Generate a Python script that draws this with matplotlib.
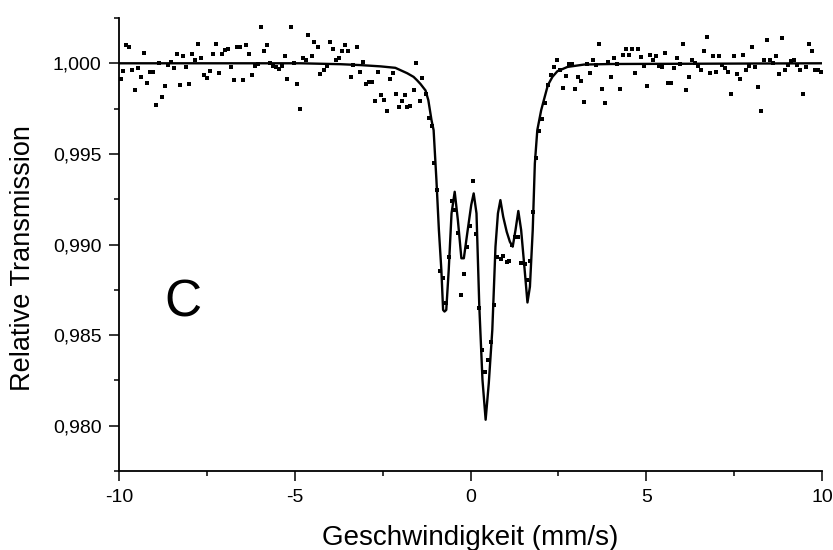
import matplotlib
matplotlib.use("Agg")
import matplotlib.pyplot as plt
from matplotlib.ticker import FuncFormatter, MultipleLocator

# measured points (velocity in mm/s, relative transmission)
velocity = [
    -9.95, -9.88, -9.80, -9.71, -9.63, -9.54, -9.46, -9.37, -9.29, -9.20,
    -9.12, -9.03, -8.95, -8.86, -8.78, -8.69, -8.60, -8.52, -8.43, -8.35,
    -8.26, -8.18, -8.09, -8.01, -7.92, -7.84, -7.75, -7.66, -7.58, -7.49,
    -7.41, -7.32, -7.24, -7.15, -7.07, -6.98, -6.90, -6.81, -6.72, -6.64,
    -6.55, -6.47, -6.38, -6.30, -6.21, -6.13, -6.04, -5.95, -5.87, -5.79,
    -5.70, -5.61, -5.53, -5.44, -5.36, -5.29, -5.21, -5.11, -5.03, -4.94,
    -4.86, -4.77, -4.69, -4.61, -4.52, -4.44, -4.35, -4.27, -4.18, -4.09,
    -4.01, -3.92, -3.84, -3.75, -3.67, -3.58, -3.50, -3.41, -3.33, -3.24,
    -3.15, -3.07, -2.98, -2.90, -2.81, -2.73, -2.64, -2.56, -2.47, -2.39,
    -2.30, -2.21, -2.13, -2.04, -1.96, -1.87, -1.80, -1.71, -1.62, -1.54,
    -1.45, -1.37, -1.28, -1.18, -1.11, -1.05, -0.95, -0.88, -0.78, -0.70,
    -0.62, -0.53, -0.45, -0.36, -0.27, -0.18, -0.09, -0.01, 0.08, 0.16,
    0.25, 0.34, 0.42, 0.49, 0.59, 0.68, 0.76, 0.86, 0.93, 1.03,
    1.10, 1.19, 1.27, 1.36, 1.44, 1.54, 1.62, 1.70, 1.78, 1.86,
    1.95, 2.04, 2.12, 2.20, 2.29, 2.37, 2.46, 2.54, 2.63, 2.72,
    2.80, 2.89, 2.97, 3.06, 3.14, 3.23, 3.31, 3.40, 3.48, 3.57,
    3.66, 3.74, 3.83, 3.91, 4.00, 4.08, 4.17, 4.25, 4.34, 4.43,
    4.51, 4.60, 4.68, 4.77, 4.85, 4.94, 5.02, 5.11, 5.19, 5.28,
    5.37, 5.45, 5.54, 5.62, 5.71, 5.79, 5.88, 5.96, 6.05, 6.13,
    6.22, 6.31, 6.39, 6.48, 6.56, 6.65, 6.73, 6.82, 6.90, 6.99,
    7.07, 7.16, 7.25, 7.33, 7.42, 7.50, 7.59, 7.67, 7.76, 7.84,
    7.93, 8.01, 8.10, 8.19, 8.26, 8.35, 8.43, 8.52, 8.60, 8.69,
    8.78, 8.86, 8.95, 9.03, 9.12, 9.20, 9.29, 9.37, 9.46, 9.54,
    9.62, 9.71, 9.79, 9.88, 9.96,
]
transmission = [
    0.99913, 0.99958, 1.00099, 1.00090, 0.99963, 0.99850, 0.99972, 0.99923, 1.00057, 0.99890,
    0.99950, 0.99952, 0.99769, 1.00000, 0.99813, 0.99872, 0.99993, 1.00007, 0.99972, 1.00050,
    0.99880, 1.00039, 0.99980, 0.99886, 1.00050, 1.00017, 1.00108, 1.00028, 0.99934, 0.99917,
    0.99956, 1.00050, 1.00108, 0.99949, 1.00050, 1.00072, 1.00079, 0.99982, 0.99910, 1.00090,
    1.00090, 0.99910, 1.00100, 1.00050, 0.99934, 0.99986, 0.99998, 1.00200, 1.00070, 1.00103,
    1.00000, 0.99987, 0.99980, 0.99967, 0.99983, 1.00039, 0.99914, 1.00200, 1.00002, 0.99886,
    0.99748, 1.00030, 1.00020, 1.00158, 1.00040, 1.00120, 1.00088, 0.99941, 0.99963, 0.99987,
    1.00120, 1.00077, 1.00020, 1.00031, 1.00070, 1.00099, 1.00070, 0.99925, 0.99993, 1.00088,
    0.99954, 1.00007, 0.99888, 0.99899, 0.99895, 0.99794, 0.99950, 0.99824, 0.99796, 0.99735,
    0.99914, 0.99949, 0.99831, 0.99759, 0.99790, 0.99824, 0.99759, 0.99763, 0.99853, 1.00000,
    0.99790, 0.99917, 0.99833, 0.99700, 0.99655, 0.99447, 0.99300, 0.98856, 0.98814, 0.98679,
    0.98933, 0.99241, 0.99190, 0.99065, 0.98723, 0.98839, 0.98984, 0.99102, 0.99350, 0.99058,
    0.98648, 0.98419, 0.98296, 0.98364, 0.98461, 0.98667, 0.98933, 0.98918, 0.98938, 0.98905,
    0.98911, 0.98997, 0.99040, 0.99043, 0.98900, 0.98892, 0.98804, 0.98910, 0.99181, 0.99477,
    0.99625, 0.99691, 0.99781, 0.99879, 0.99936, 0.99980, 1.00018, 0.99961, 0.99866, 0.99928,
    0.99996, 0.99996, 0.99857, 0.99923, 0.99902, 0.99787, 0.99994, 0.99945, 1.00017, 0.99993,
    1.00108, 0.99858, 0.99781, 1.00007, 0.99925, 1.00028, 0.99996, 0.99860, 1.00048, 1.00077,
    1.00048, 1.00077, 0.99947, 1.00077, 1.00037, 0.99983, 0.99873, 1.00048, 1.00017, 1.00039,
    0.99987, 0.99978, 1.00057, 0.99891, 0.99891, 0.99972, 1.00028, 0.99994, 1.00108, 0.99850,
    0.99925, 1.00017, 1.00000, 0.99987, 0.99965, 1.00070, 1.00147, 0.99949, 1.00039, 0.99954,
    1.00039, 0.99991, 0.99974, 0.99952, 0.99829, 1.00039, 0.99941, 0.99912, 1.00048, 0.99961,
    0.99983, 1.00088, 0.99980, 0.99869, 0.99737, 1.00017, 1.00129, 1.00017, 1.00000, 1.00039,
    0.99939, 1.00138, 0.99961, 0.99991, 1.00011, 1.00018, 0.99993, 0.99963, 0.99831, 0.99982,
    1.00108, 1.00070, 0.99965, 0.99961, 0.99954,
]

# fitted curve
fit_v = [
    -10.0, -4.84, -3.70, -3.13, -2.56, -2.14, -1.80, -1.62, -1.52, -1.42,
    -1.28, -1.20, -1.11, -1.05, -0.97, -0.90, -0.83, -0.78, -0.74, -0.69,
    -0.62, -0.54, -0.45, -0.36, -0.26, -0.19, -0.08, 0.02, 0.09, 0.17,
    0.25, 0.34, 0.43, 0.52, 0.62, 0.71, 0.78, 0.85, 0.93, 1.03,
    1.12, 1.20, 1.28, 1.36, 1.44, 1.54, 1.62, 1.69, 1.77, 1.83,
    1.90, 2.01, 2.11, 2.20, 2.33, 2.47, 2.76, 3.23, 3.99, 10.0,
]
fit_t = [
    1.00000, 1.00000, 0.99995, 0.99990, 0.99983, 0.99975, 0.99945, 0.99925, 0.99906, 0.99885,
    0.99850, 0.99796, 0.99686, 0.99631, 0.99355, 0.99080, 0.98860, 0.98639, 0.98630, 0.98639,
    0.98860, 0.99172, 0.99291, 0.99135, 0.98924, 0.98924, 0.99080, 0.99218, 0.99282, 0.99172,
    0.98657, 0.98253, 0.98033, 0.98235, 0.98529, 0.98988, 0.99172, 0.99245, 0.99153, 0.99070,
    0.99015, 0.98988, 0.99080, 0.99185, 0.99080, 0.98860, 0.98680, 0.98767, 0.99080, 0.99447,
    0.99631, 0.99741, 0.99814, 0.99879, 0.99925, 0.99956, 0.99980, 0.99993, 0.99996, 1.00000,
]

plt.rcParams['font.family'] = ['Liberation Sans', 'DejaVu Sans']

fig = plt.figure(figsize=(8.33, 5.5), dpi=100)
ax = fig.add_axes([0.1429, 0.1436, 0.8439, 0.8237])

ax.plot(velocity, transmission, 's', color='black', ms=2.3, mew=0)
ax.plot(fit_v, fit_t, '-', color='black', lw=1.7)

ax.set_xlim(-10, 10)
ax.set_ylim(0.9775, 1.0025)

ax.xaxis.set_major_locator(MultipleLocator(5))
ax.xaxis.set_minor_locator(MultipleLocator(2.5))
ax.yaxis.set_major_locator(MultipleLocator(0.005))
ax.yaxis.set_minor_locator(MultipleLocator(0.0025))
ax.xaxis.set_major_formatter(FuncFormatter(lambda v, p: f"{v:g}"))
ax.yaxis.set_major_formatter(FuncFormatter(lambda v, p: f"{v:.3f}".replace('.', ',')))

ax.tick_params(which='major', direction='out', length=7.2, width=1.1, labelsize=14, pad=5.5)
ax.tick_params(which='minor', direction='out', length=3.6, width=1.1)

for side in ['top', 'right']:
    ax.spines[side].set_visible(False)
for side in ['left', 'bottom']:
    ax.spines[side].set_linewidth(1.3)

ax.set_xlabel("Geschwindigkeit (mm/s)", fontsize=20, va='baseline')
ax.set_ylabel("Relative Transmission", fontsize=19.5, va='center')
ax.xaxis.set_label_coords(0.5, -0.163)
ax.yaxis.set_label_coords(-0.1366, 0.47)

ax.text(-8.18, 0.98678, "C", fontsize=37, ha='center', va='center')

fig.savefig("out.png", dpi=100)
